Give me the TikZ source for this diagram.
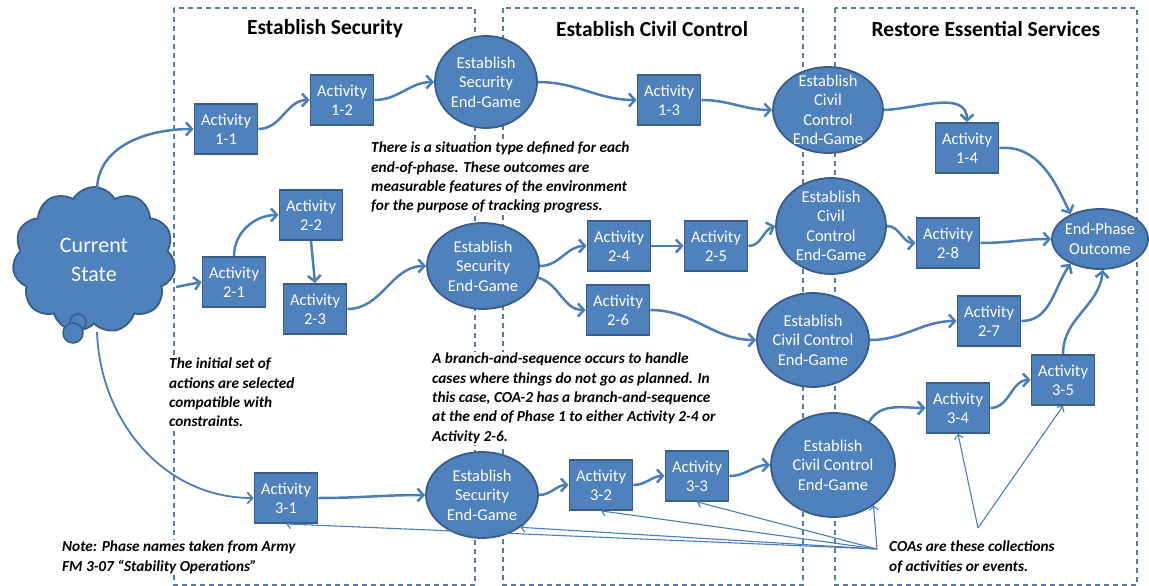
\documentclass[tikz,border=0pt]{standalone}
\usepackage{fontspec}
\setmainfont{Carlito}
\usetikzlibrary{shapes.geometric,shapes.symbols,arrows.meta}
\definecolor{ofc}{HTML}{4F81BD}
\definecolor{ofcd}{HTML}{385D8A}
\definecolor{lnc}{HTML}{4A7EBB}
\definecolor{dsh}{HTML}{5A7A9E}
\begin{document}
\begin{tikzpicture}[x=1pt,y=1pt,
  act/.style={rectangle, draw=ofcd, line width=1.8pt, fill=ofc, text=white,
    minimum width=63pt, minimum height=50pt, inner sep=0pt, align=center,
    font=\fontsize{16.5}{19}\selectfont},
  eg/.style={ellipse, draw=ofcd, line width=1.8pt, fill=ofc, inner sep=0pt},
  egtext/.style={text=white, align=center, font=\fontsize{16.5}{19.5}\selectfont},
  con/.style={draw=lnc, line width=2.5pt, -{Straight Barb[length=6pt,width=13pt]}},
  thincon/.style={draw=lnc, line width=1.8pt, -{Straight Barb[length=5pt,width=11pt]}},
  ptr/.style={draw=lnc, line width=1.1pt, -{Straight Barb[length=4pt,width=9pt]}},
  phase/.style={dash pattern=on 5pt off 4pt, draw=dsh, line width=1.1pt},
  head/.style={font=\bfseries\fontsize{21.5}{24}\selectfont},
  note/.style={fill=white, inner sep=1pt, anchor=north west, align=left,
    font=\bfseries\itshape\fontsize{15.3}{19.3}\selectfont}
]
\useasboundingbox (0,0) rectangle (1149,-586);
% phase boxes
\draw[phase] (174,-8) rectangle (475,-585);
\draw[phase] (503,-8) rectangle (803,-585);
\draw[phase] (835,-8) rectangle (1137,-585);
\node[head] (h1) at (325,-29) {Establish Security};
\node[head] (h2) at (652,-29) {Establish Civil Control};
\node[head] (h3) at (986,-29) {Restore Essential Services};
% notes
\node[note] (n1) at (370,-141) {There is a situation type defined for each\\end-of-phase. These outcomes are\\measurable features of the environment\\for the purpose of tracking progress.};
\node[note] (n2) at (168,-357) {The initial set of\\actions are selected\\compatible with\\constraints.};
\node[note] (n3) at (431,-352) {A branch-and-sequence occurs to handle\\cases where things do not go as planned. In\\this case, COA-2 has a branch-and-sequence\\at the end of Phase 1 to either Activity 2-4 or\\Activity 2-6.};
\node[note] (n4) at (61,-540) {Note: Phase names taken from Army\\FM 3-07 “Stability Operations”};
\node[note] (n5) at (888,-540) {COAs are these collections\\of activities or events.};
% cloud
\node[cloud, cloud puffs=11, cloud puff arc=120, draw=ofcd, fill=ofc, line width=1.8pt,
  minimum width=163pt, minimum height=146pt, text=white, align=center,
  font=\fontsize{22}{29}\selectfont] (cs) at (94,-260) {Current\\State};
\draw[draw=ofcd, fill=ofc, line width=1.5pt] (78,-322) circle (8);
\draw[draw=ofcd, fill=ofc, line width=1.5pt] (73,-333) circle (10);
\coordinate (ctop) at (97,-189);
\coordinate (ceast) at (176,-287);
\coordinate (cbot) at (97,-332);
% activities
\node[act] (a11) at (226,-129) {Activity\\1-1};
\node[act] (a12) at (342,-100) {Activity\\1-2};
\node[act] (a13) at (669,-100) {Activity\\1-3};
\node[act] (a14) at (967,-148) {Activity\\1-4};
\node[act] (a21) at (234,-282) {Activity\\2-1};
\node[act] (a22) at (311,-215) {Activity\\2-2};
\node[act] (a23) at (315,-309) {Activity\\2-3};
\node[act] (a24) at (619,-246) {Activity\\2-4};
\node[act] (a25) at (716,-246) {Activity\\2-5};
\node[act] (a26) at (618,-310) {Activity\\2-6};
\node[act] (a27) at (989,-321) {Activity\\2-7};
\node[act] (a28) at (948,-243) {Activity\\2-8};
\node[act] (a31) at (286,-498) {Activity\\3-1};
\node[act] (a32) at (601,-485) {Activity\\3-2};
\node[act] (a33) at (697,-476) {Activity\\3-3};
\node[act] (a34) at (958,-408) {Activity\\3-4};
\node[act] (a35) at (1063,-380) {Activity\\3-5};
% end-games
\node[eg, minimum width=102pt, minimum height=92pt, label={[egtext]center:{Establish\\Security\\End-Game}}] (seg1) at (486,-82) {};
\node[eg, minimum width=112pt, minimum height=86pt, label={[egtext]center:{Establish\\Security\\End-Game}}] (seg2) at (483,-266) {};
\node[eg, minimum width=112pt, minimum height=86pt, label={[egtext]center:{Establish\\Security\\End-Game}}] (seg3) at (482,-495) {};
\node[eg, minimum width=110pt, minimum height=86pt, label={[egtext]center:{Establish\\Civil\\Control\\End-Game}}] (ceg1) at (828,-110) {};
\node[eg, minimum width=110pt, minimum height=96pt, label={[egtext]center:{Establish\\Civil\\Control\\End-Game}}] (ceg2) at (831,-226) {};
\node[eg, minimum width=112pt, minimum height=94pt, label={[egtext]center:{Establish\\Civil Control\\End-Game}}] (ceg3) at (813,-340) {};
\node[eg, minimum width=124pt, minimum height=104pt, label={[egtext]center:{Establish\\Civil Control\\End-Game}}] (ceg4) at (833,-465) {};
\node[eg, minimum width=96pt, minimum height=60pt, label={[egtext]center:{End-Phase\\Outcome}}] (ep) at (1100,-239) {};
% connectors row 1
\draw[con] (ctop) to[out=88,in=180] (a11.west);
\draw[con] (a11.east) to[out=0,in=180] (a12.west);
\draw[con] (a12.east) to[out=0,in=180] (seg1.west);
\draw[con] (seg1.east) to[out=0,in=180] (a13.west);
\draw[con] (a13.east) to[out=0,in=180] (ceg1.west);
\draw[con] (ceg1.east) to[out=2,in=90] (a14.north);
\draw[con] (a14.east) to[out=5,in=115] (ep.140);
% row 2
\draw[con] (ceast) -- (a21.west);
\draw[con] (a21.north) to[out=90,in=180] (a22.west);
\draw[con] (a22.south) -- (a23.north);
\draw[con] (a23.east) to[out=0,in=180] (seg2.west);
\draw[con] (seg2.east) to[out=0,in=180] (a24.west);
\draw[con] (seg2.-12) to[out=-15,in=180] (a26.west);
\draw[con] (a24.east) -- (a25.west);
\draw[con] (a25.east) to[out=0,in=200] (ceg2.west);
\draw[con] (ceg2.east) to[out=0,in=180] (a28.west);
\draw[con] (a28.east) to[out=0,in=180] (ep.west);
\draw[con] (a26.east) to[out=0,in=180] (ceg3.west);
\draw[con] (ceg3.east) to[out=0,in=180] (a27.west);
\draw[con] (a27.east) to[out=0,in=235] (ep.220);
\draw[con] (a35.north) to[out=90,in=-95] (ep.-85);
% row 3
\draw[thincon] (cbot) to[out=-88,in=180] (a31.west);
\draw[con] (a31.east) to[out=0,in=180] (seg3.west);
\draw[con] (seg3.east) to[out=0,in=180] (a32.west);
\draw[con] (a32.east) to[out=0,in=180] (a33.west);
\draw[con] (a33.east) to[out=0,in=180] (ceg4.west);
\draw[con] (ceg4.50) to[out=60,in=180] (a34.west);
\draw[con] (a34.east) to[out=0,in=180] (a35.west);
% COA pointers
\coordinate (p1) at (877,-549);
\coordinate (p2) at (978,-528);
\draw[ptr] (p1) -- (a31.south);
\draw[ptr] (p1) -- (seg3.-40);
\draw[ptr] (p1) -- (a32.south);
\draw[ptr] (p1) -- (a33.south);
\draw[ptr] (p1) -- (ceg4.-45);
\draw[ptr] (p2) -- (a34.south);
\draw[ptr] (p2) -- (a35.south);
\end{tikzpicture}
\end{document}
